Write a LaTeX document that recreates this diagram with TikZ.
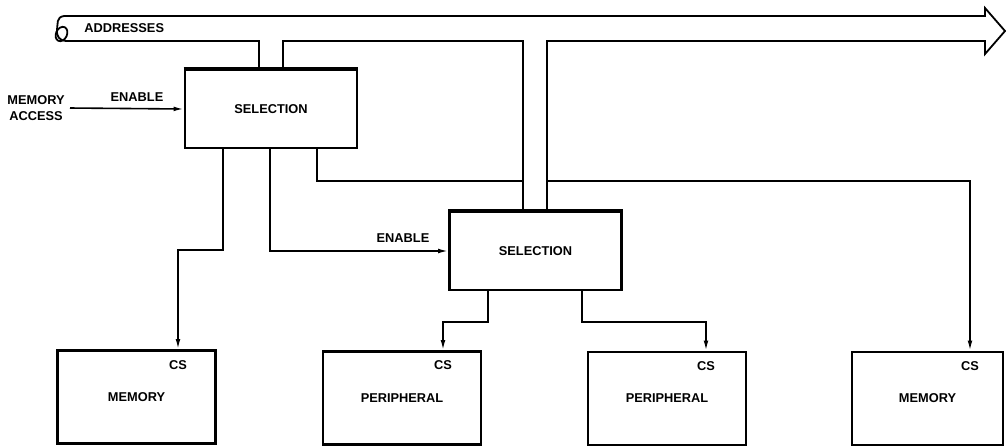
\documentclass[tikz,border=0pt]{standalone}
\usepackage{fontspec}
\setmainfont{Liberation Sans}
\usetikzlibrary{arrows.meta}
\tikzset{
  lbl/.style={font=\bfseries\fontsize{6.4}{8}\selectfont, inner sep=2.5pt},
  selbox/.style={lbl, draw, line width=1.4pt, minimum width=86pt, minimum height=39pt},
  unitbox/.style={lbl, draw, line width=1.4pt, minimum width=79pt, minimum height=46.5pt},
  sig/.style={line width=0.8pt},
  sigarrow/.style={sig, -{Latex[length=5pt,width=2.4pt]}},
  bus/.style={line width=0.9pt, fill=white, line join=miter}
}

\begin{document}
\begin{tikzpicture}[x=0.5pt,y=-0.5pt]
  \useasboundingbox (0,0) rectangle (1006,447);
  % selection units
  \node[selbox] (sel1) at (271,109) {SELECTION};
  \node[selbox] (sel2) at (535.5,251) {SELECTION};
  % selected units
  \node[unitbox] (mem1) at (136.5,397) {MEMORY};
  \node[unitbox] (per1) at (402,398) {PERIPHERAL};
  \node[unitbox] (per2) at (667,398.5) {PERIPHERAL};
  \node[unitbox, minimum width=75.5pt] (mem2) at (927.5,398.5) {MEMORY};
  \node[lbl] (mem1cs) at (178,365) {CS};
  \node[lbl] (per1cs) at (443,365) {CS};
  \node[lbl] (per2cs) at (706,366) {CS};
  \node[lbl] (mem2cs) at (970,366) {CS};
  % inputs
  \node[lbl, align=center, anchor=east] (macc) at (70,108) {MEMORY\\ACCESS};
  \node[lbl] (en1) at (137,97) {ENABLE};
  \node[lbl] (en2) at (403,238) {ENABLE};
  \draw[sigarrow] (macc.east) -- (sel1.west);
  \draw[sigarrow] (sel1.south -| 270,0) |- (sel2.west);
  \draw[sigarrow] (sel1.south -| 223,0) |- (mem1cs |- 0,250) -- (mem1cs |- mem1.north);
  \draw[sigarrow] (sel1.south -| 317,0) |- (mem2cs |- 0,181) -- (mem2cs |- mem2.north);
  \draw[sigarrow] (sel2.south -| 488,0) |- (per1cs |- 0,322) -- (per1cs |- per1.north);
  \draw[sigarrow] (sel2.south -| 582,0) |- (per2cs |- 0,322) -- (per2cs |- per2.north);
  % address bus
  \draw[bus] (64,16) -- (985,16) -- (985,8) -- (1005,31) -- (985,54) -- (985,41)
    -- (547,41) -- (sel2.north -| 547,0) -- (sel2.north -| 523,0) -- (523,41)
    -- (283,41) -- (sel1.north -| 283,0) -- (sel1.north -| 259,0) -- (259,41)
    -- (66,41) .. controls (60,41) and (56,36) .. (57,30)
    .. controls (58,24) and (56,17) .. cycle;
  \draw[line width=0.9pt, rotate around={-25:(61.5,34)}] (61.5,34) ellipse (5.5 and 7.5);
  \node[lbl, anchor=west] (addr) at (79,28) {ADDRESSES};
  \draw[line width=1.4pt] (sel1.north west) -- (sel1.north east);
  \draw[line width=1.4pt] (sel2.north west) -- (sel2.north east);
\end{tikzpicture}
\end{document}
